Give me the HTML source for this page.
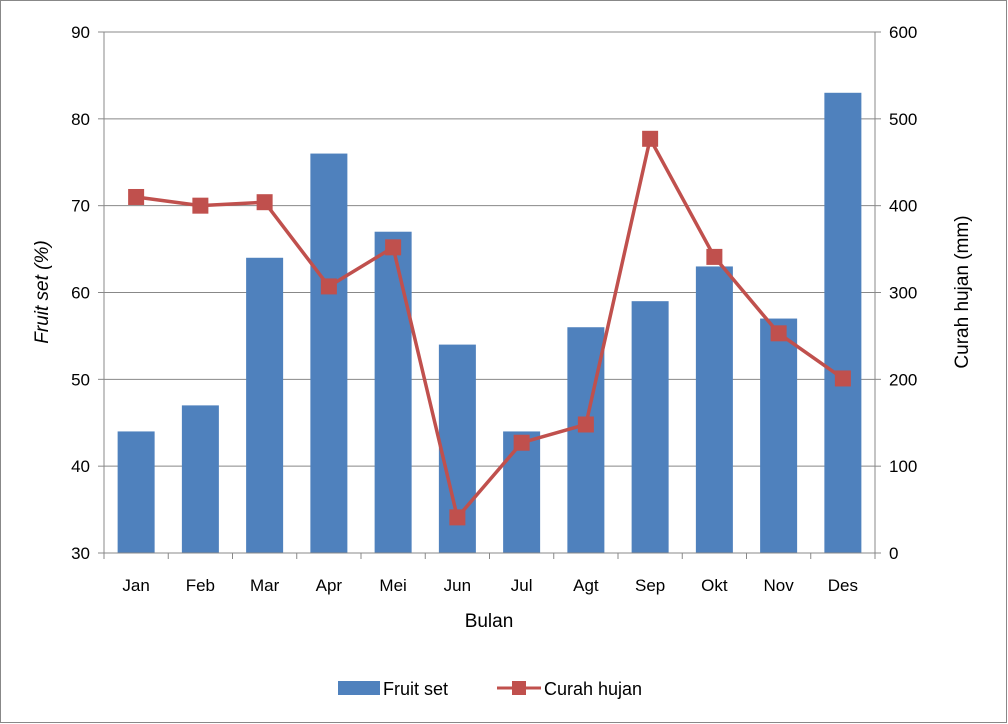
<!DOCTYPE html>
<html><head><meta charset="utf-8"><style>
html,body{margin:0;padding:0;background:#fff;}
svg{display:block;font-family:"Liberation Sans",sans-serif;}
</style></head><body>
<svg id="chart" width="1008" height="724">
<rect x="0.5" y="0.5" width="1006" height="722" fill="#fff" stroke="#888"/>
<g id="grid"></g><g id="bars"></g><g id="line"></g><g id="axes"></g>
<text x="48" y="292" font-size="19" font-style="italic" text-anchor="middle" transform="rotate(-90 48 292)">Fruit set (%)</text>
<text x="968" y="292" font-size="19" text-anchor="middle" transform="rotate(-90 968 292)">Curah hujan (mm)</text>
<text x="489" y="627" font-size="19" text-anchor="middle">Bulan</text>
<g>
<rect x="338" y="681" width="42" height="14" fill="#4F81BD"/>
<text x="383" y="695" font-size="18">Fruit set</text>
<line x1="497" y1="688" x2="541" y2="688" stroke="#C0504D" stroke-width="3"/>
<rect x="512" y="681" width="14" height="14" fill="#C0504D"/>
<text x="544" y="695" font-size="18">Curah hujan</text>
</g>
</svg>
<script>
const categories=["Jan","Feb","Mar","Apr","Mei","Jun","Jul","Agt","Sep","Okt","Nov","Des"];
const fruitSet=[44,47,64,76,67,54,44,56,59,63,57,83];
const curahHujan=[410,400,404,307,352,41,127,148,477,341,253,201];
const leftTicks=[30,40,50,60,70,80,90];
const rightTicks=[0,100,200,300,400,500,600];
const X0=104,X1=875,Y0=32,Y1=553;
const NS="http://www.w3.org/2000/svg";
const bw=(X1-X0)/categories.length;
const xC=i=>X0+bw*(i+0.5);
const yL=v=>Y1-(v-30)/60*(Y1-Y0);
const yR=v=>Y1-v/600*(Y1-Y0);
function mk(tag,attrs,parent,text){const e=document.createElementNS(NS,tag);for(const k in attrs)e.setAttribute(k,attrs[k]);if(text!==undefined)e.textContent=text;document.getElementById(parent).appendChild(e);return e;}
leftTicks.forEach(v=>{
 const g=mk("line",{x1:X0,x2:X1,y1:yL(v),y2:yL(v),stroke:"#888","stroke-width":1},"grid");
 
 
 const t=mk("text",{x:X0-14,y:yL(v)+6,"font-size":17,"text-anchor":"end"},"axes",v);
 
 
 const k=mk("line",{x1:X0-6,x2:X0,y1:yL(v),y2:yL(v),stroke:"#888"},"axes");
 
 
});
rightTicks.forEach(v=>{
 const t=mk("text",{x:X1+14,y:yR(v)+6,"font-size":17},"axes",v);
 
 
 const k=mk("line",{x1:X1,x2:X1+6,y1:yR(v),y2:yR(v),stroke:"#888"},"axes");
 
 
});
fruitSet.forEach((v,i)=>{
 const r=mk("rect",{x:xC(i)-18.5,y:yL(v),width:37,height:Y1-yL(v),fill:"#4F81BD"},"bars");
 
 
 const t=mk("text",{x:xC(i),y:Y1+38,"font-size":17,"text-anchor":"middle"},"axes",categories[i]);
 
 
});
for(let i=0;i<=categories.length;i++){
 const k=mk("line",{x1:X0+bw*i,x2:X0+bw*i,y1:Y1,y2:Y1+6,stroke:"#888"},"axes");
 
 
}
const ax=mk("path",{d:`M${X0},${Y0}V${Y1}H${X1}V${Y0}`,fill:"none",stroke:"#888"},"axes");


const pl=mk("polyline",{points:curahHujan.map((v,i)=>xC(i)+","+yR(v)).join(" "),fill:"none",stroke:"#C0504D","stroke-width":3.5,"stroke-linejoin":"round"},"line");


curahHujan.forEach((v,i)=>{
 const m=mk("rect",{x:xC(i)-8,y:yR(v)-8,width:16,height:16,fill:"#C0504D"},"line");
 
 
});
</script>
</body></html>
